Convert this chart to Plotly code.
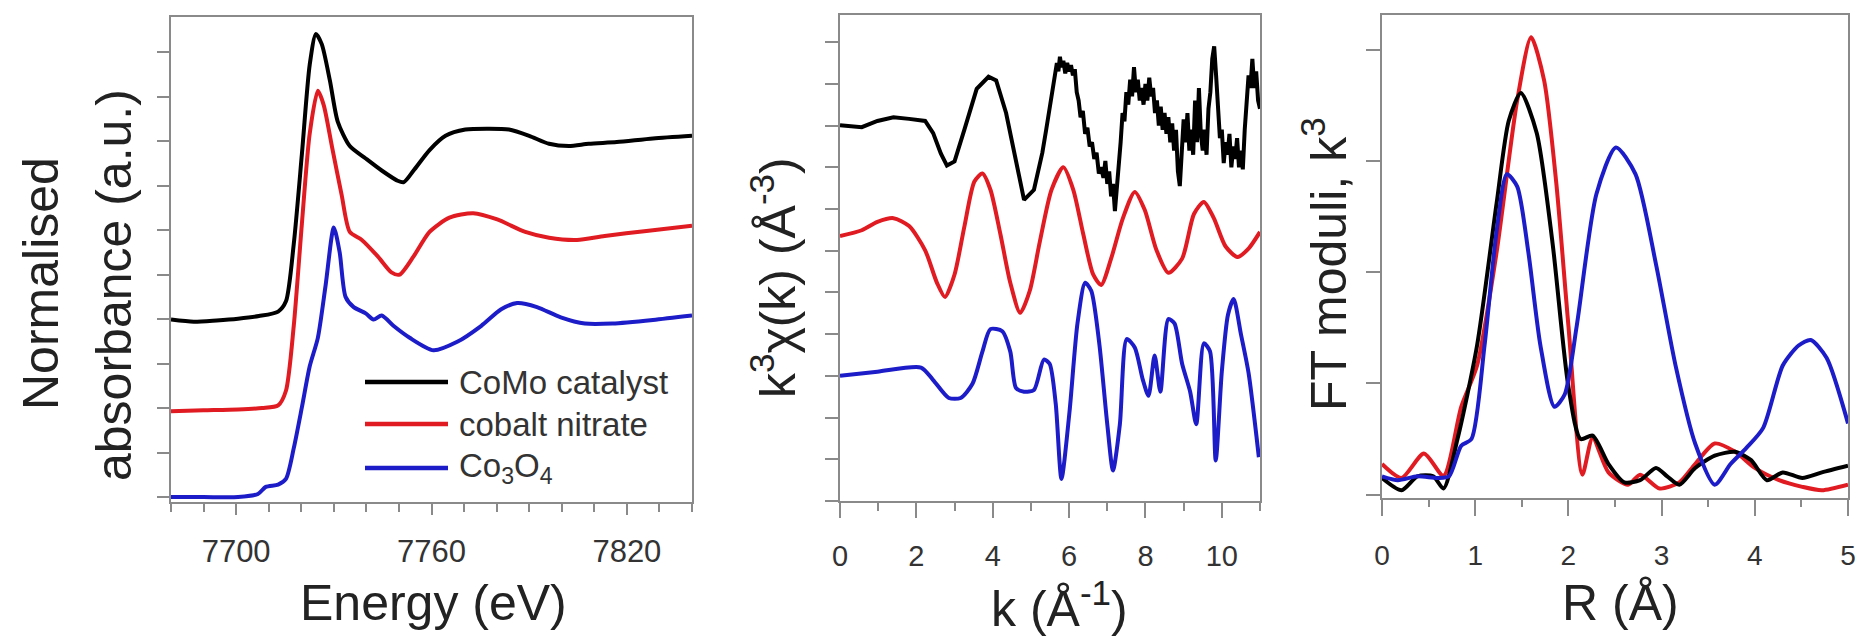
import plotly.graph_objects as go

W, H = 1862, 636

# ---------------- data ----------------
series_names = ["CoMo catalyst", "cobalt nitrate", "Co<sub>3</sub>O<sub>4</sub>"]
series_colors = ["#000000", "#e01b22", "#1c1cc8"]

# Panel 1: XANES (offset stacked)
xanes_black_E = [7680, 7687, 7694, 7700.6, 7707, 7712.9, 7715.3, 7717.7, 7720.2, 7722.6, 7724.5, 7726.3,
                 7728.8, 7731.2, 7734.9, 7739.8, 7744.7, 7749.6, 7751.5, 7754.5, 7759.4, 7764.3, 7770.4,
                 7777.7, 7783.8, 7790, 7796.1, 7802.2, 7808.3, 7816.9, 7828, 7840]
xanes_black_mu = [3.99, 3.94, 3.97, 4.01, 4.07, 4.17, 4.4, 5.69, 7.71, 9.72, 10.41, 10.18,
                  9.36, 8.44, 7.89, 7.61, 7.34, 7.11, 7.08, 7.34, 7.8, 8.12, 8.26,
                  8.28, 8.26, 8.12, 7.94, 7.89, 7.94, 7.98, 8.06, 8.12]
xanes_red_E = [7680, 7690, 7700.6, 7708, 7712.9, 7715.3, 7717.7, 7720.2, 7722.6, 7725.1, 7726.9, 7729.4,
               7732.4, 7734.9, 7738.6, 7743.5, 7747.7, 7750.2, 7754.5, 7759.4, 7765.5, 7772.8, 7780.2,
               7788.8, 7796.1, 7804.7, 7813.2, 7826, 7840]
xanes_red_mu = [1.93, 1.95, 1.97, 2.0, 2.06, 2.39, 3.85, 6.15, 8.17, 9.13, 8.81, 7.89,
                6.79, 5.96, 5.78, 5.41, 5.05, 5.0, 5.41, 5.96, 6.28, 6.38, 6.24,
                5.96, 5.83, 5.78, 5.87, 5.98, 6.1]
xanes_blue_E = [7680, 7690, 7700.6, 7706.7, 7709.1, 7712.9, 7715.3, 7717.7, 7720.2, 7722.6, 7725.1, 7727.5,
                7730, 7731.8, 7733.6, 7736.1, 7739.8, 7742.2, 7744.7, 7748.3, 7753.3, 7760.6, 7767.9,
                7775.3, 7781.4, 7786.3, 7792.4, 7799.7, 7807.1, 7815.6, 7828, 7840]
xanes_blue_mu = [0, 0, 0, 0.07, 0.23, 0.28, 0.41, 1.1, 2.02, 2.94, 3.58, 4.77,
                 6.06, 5.5, 4.5, 4.27, 4.13, 3.99, 4.08, 3.85, 3.58, 3.3, 3.49,
                 3.85, 4.22, 4.36, 4.27, 4.04, 3.9, 3.9, 3.98, 4.08]

# Panel 2: k^3 chi(k) (offset stacked)
exafs_black_k = [0, 0.57, 0.98, 1.4, 1.81, 2.23, 2.44, 2.64, 2.8, 3.0, 3.26, 3.58, 3.89, 4.09, 4.35, 4.61,
                 4.82, 5.08, 5.30, 5.40, 5.48, 5.55, 5.62, 5.68, 5.72, 5.76, 5.80, 5.85, 5.90, 5.95, 6.00,
                 6.05, 6.10, 6.15, 6.20, 6.25, 6.30, 6.36, 6.42, 6.48, 6.54, 6.60, 6.66, 6.72, 6.78, 6.84,
                 6.90, 6.95, 7.00, 7.05, 7.10, 7.15, 7.20, 7.25, 7.30, 7.35, 7.40, 7.45, 7.50, 7.55, 7.60,
                 7.65, 7.70, 7.75, 7.80, 7.85, 7.90, 7.95, 8.00, 8.05, 8.10, 8.15, 8.20, 8.25, 8.30, 8.35,
                 8.40, 8.45, 8.50, 8.55, 8.60, 8.65, 8.70, 8.75, 8.80, 8.85, 8.90, 8.95, 9.00, 9.05, 9.10,
                 9.15, 9.20, 9.25, 9.30, 9.35, 9.40, 9.45, 9.50, 9.55, 9.60, 9.65, 9.70, 9.75, 9.80, 9.85,
                 9.90, 9.95, 10.00, 10.05, 10.10, 10.15, 10.20, 10.25, 10.30, 10.35, 10.40, 10.45, 10.50,
                 10.55, 10.60, 10.65, 10.70, 10.75, 10.80, 10.85, 10.90, 10.95, 11.00]
exafs_black_chi = [9.01, 8.96, 9.11, 9.2, 9.16, 9.11, 8.82, 8.33, 8.04, 8.14, 8.91, 9.88, 10.17, 10.08, 9.3, 8.14,
                   7.22, 7.46, 8.35, 8.9, 9.4, 9.75, 10.2, 10.5, 10.3, 10.65, 10.4, 10.55, 10.25, 10.5, 10.3,
                   10.45, 10.2, 10.35, 9.8, 9.6, 9.2, 9.35, 8.8, 8.95, 8.5, 8.6, 8.2, 8.35, 7.85, 8.0,
                   7.75, 8.15, 7.6, 7.9, 7.3, 7.6, 6.95, 7.5, 7.9, 8.6, 9.3, 9.1, 9.8, 9.5, 10.1,
                   9.7, 10.4, 9.8, 10.1, 9.6, 9.9, 9.5, 10.0, 9.6, 10.15, 9.7, 9.9, 9.3, 9.6, 9.0,
                   9.45, 8.9, 9.3, 8.8, 9.2, 8.6, 9.05, 8.4, 8.9, 7.9, 7.55, 8.5, 9.15, 8.6, 9.3,
                   8.4, 8.9, 8.3, 9.6, 8.6, 9.9, 8.8, 8.4, 8.9, 8.3, 9.4, 9.8, 10.6, 10.9, 10.2,
                   9.2, 8.7, 8.9, 8.1, 8.6, 8.3, 8.8, 8.0, 8.5, 8.2, 8.7, 8.0, 8.4,
                   7.95, 8.9, 9.6, 10.2, 9.9, 10.6, 9.9, 10.3, 9.6, 9.4]
exafs_red_k = [0, 0.57, 0.98, 1.4, 1.81, 2.23, 2.54, 2.75, 3.0, 3.26, 3.52, 3.73, 3.94, 4.2, 4.46, 4.72,
               4.97, 5.23, 5.54, 5.85, 6.11, 6.37, 6.63, 6.84, 7.1, 7.41, 7.72, 7.98, 8.29, 8.6, 8.96,
               9.27, 9.53, 9.79, 10.1, 10.41, 10.7, 11]
exafs_red_chi = [6.35, 6.49, 6.69, 6.78, 6.59, 6.01, 5.23, 4.89, 5.43, 6.59, 7.66, 7.85, 7.46, 6.4, 5.23, 4.51,
                 5.04, 6.2, 7.46, 8.0, 7.46, 6.4, 5.43, 5.18, 5.81, 6.78, 7.41, 6.98, 6.01, 5.47, 5.81,
                 6.88, 7.17, 6.78, 6.1, 5.85, 6.05, 6.45]
exafs_blue_k = [0, 0.98, 2.12, 2.44, 2.85, 3.16, 3.47, 3.73, 3.94, 4.25, 4.46, 4.61, 4.82, 5.08, 5.34, 5.49,
                5.65, 5.8, 6.01, 6.22, 6.42, 6.58, 6.79, 7.0, 7.15, 7.33, 7.51, 7.72, 7.93, 8.08, 8.24,
                8.39, 8.6, 8.76, 8.96, 9.17, 9.33, 9.53, 9.69, 9.84, 10.0, 10.16, 10.31, 10.5, 10.7, 10.97]
exafs_blue_chi = [3.0, 3.1, 3.2, 2.9, 2.47, 2.47, 2.81, 3.58, 4.12, 4.07, 3.58, 2.71, 2.62, 2.66, 3.39, 3.29,
                  2.33, 0.53, 2.13, 4.26, 5.23, 5.04, 3.78, 1.84, 0.73, 1.84, 3.88, 3.68, 2.91, 2.52, 3.49,
                  2.62, 4.36, 4.26, 3.29, 2.62, 1.84, 3.78, 3.59, 0.97, 3.1, 4.46, 4.84, 4.0, 3.07, 1.05]

# Panel 3: FT moduli
ft_black_R = [0, 0.21, 0.38, 0.55, 0.66, 0.81, 1.02, 1.23, 1.36, 1.49, 1.66, 1.83, 2.0, 2.13, 2.26, 2.43,
              2.6, 2.77, 2.94, 3.06, 3.19, 3.36, 3.57, 3.79, 3.96, 4.13, 4.3, 4.51, 4.72, 5.0]
ft_black_mag = [0.15, 0.04, 0.165, 0.165, 0.055, 0.5, 1.34, 2.62, 3.36, 3.61, 3.25, 2.26, 0.97, 0.5, 0.53, 0.275,
                0.11, 0.13, 0.24, 0.165, 0.09, 0.24, 0.35, 0.385, 0.31, 0.13, 0.2, 0.15, 0.2, 0.26]
ft_red_R = [0, 0.21, 0.45, 0.66, 0.85, 1.02, 1.23, 1.45, 1.6, 1.74, 1.87, 2.0, 2.15, 2.26, 2.43, 2.64,
            2.77, 2.98, 3.19, 3.36, 3.57, 3.79, 4.0, 4.26, 4.51, 4.72, 5.0]
ft_red_mag = [0.275, 0.15, 0.37, 0.17, 0.79, 1.16, 2.18, 3.54, 4.11, 3.72, 2.8, 1.52, 0.18, 0.51, 0.2, 0.09,
              0.18, 0.055, 0.11, 0.275, 0.46, 0.385, 0.24, 0.13, 0.07, 0.04, 0.09]
ft_blue_R = [0, 0.17, 0.38, 0.6, 0.72, 0.85, 0.96, 1.1, 1.23, 1.34, 1.45, 1.57, 1.7, 1.85, 1.96, 2.09,
             2.3, 2.51, 2.72, 2.94, 3.15, 3.36, 3.57, 3.74, 3.91, 4.09, 4.3, 4.47, 4.6, 4.77, 5.0]
ft_blue_mag = [0.165, 0.13, 0.165, 0.15, 0.165, 0.44, 0.5, 1.34, 2.37, 2.88, 2.77, 2.18, 1.34, 0.79, 0.9, 1.52,
               2.7, 3.12, 2.88, 2.07, 1.16, 0.46, 0.09, 0.275, 0.42, 0.6, 1.16, 1.34, 1.39, 1.23, 0.64]

# tick labels
energy_ticks = [7700, 7760, 7820]
k_ticks = [0, 2, 4, 6, 8, 10]
r_ticks = [0, 1, 2, 3, 4, 5]

# ---------------- figure ----------------
FONT = "Liberation Sans, Arial, sans-serif"
AX = "#8a8a8a"
TXT = "#2b2b2b"
LW = 4

def px_x(x):
    return x / W

def px_y(y):
    return 1 - y / H

fig = go.Figure()

def add(x, y, color, xa, ya, spline=True):
    fig.add_trace(go.Scatter(
        x=x, y=y, mode="lines", xaxis=xa, yaxis=ya,
        line=dict(color=color, width=LW, shape="spline" if spline else "linear", smoothing=0.7),
        showlegend=False, hoverinfo="skip"))

add(xanes_black_E, xanes_black_mu, series_colors[0], "x", "y")
add(xanes_red_E, xanes_red_mu, series_colors[1], "x", "y")
add(xanes_blue_E, xanes_blue_mu, series_colors[2], "x", "y")

add(exafs_black_k, exafs_black_chi, series_colors[0], "x2", "y2", spline=False)
add(exafs_red_k, exafs_red_chi, series_colors[1], "x2", "y2")
add(exafs_blue_k, exafs_blue_chi, series_colors[2], "x2", "y2")

add(ft_red_R, ft_red_mag, series_colors[1], "x3", "y3")
add(ft_black_R, ft_black_mag, series_colors[0], "x3", "y3")
add(ft_blue_R, ft_blue_mag, series_colors[2], "x3", "y3")

boxes = {  # pixel boxes: left, top, right, bottom
    1: (171, 17, 692, 502),
    2: (840, 15, 1260, 501),
    3: (1382, 15, 1848, 498),
}

def xdom(b):
    return [px_x(b[0]), px_x(b[2])]

def ydom(b):
    return [px_y(b[3]), px_y(b[1])]

common = dict(showline=True, linecolor=AX, linewidth=2, mirror=True, showgrid=False, zeroline=False,
              ticks="outside", tickcolor=AX, tickwidth=2, automargin=False)

def tf(size):
    return dict(family=FONT, size=size, color="#333333")

fig.update_layout(
    width=W, height=H, margin=dict(l=0, r=0, t=0, b=0),
    paper_bgcolor="white", plot_bgcolor="white", template="none", showlegend=False,
    xaxis=dict(domain=xdom(boxes[1]), range=[7680, 7840], anchor="y", tickvals=energy_ticks,
               ticklen=11, ticklabelstandoff=10, tickfont=tf(31),
               minor=dict(dtick=10, tick0=7680, ticklen=8, tickwidth=2, tickcolor=AX, ticks="outside"),
               **common),
    yaxis=dict(domain=ydom(boxes[1]), range=[-0.11, 10.79], anchor="x", tickvals=list(range(11)),
               ticklen=12, showticklabels=False, **common),
    xaxis2=dict(domain=xdom(boxes[2]), range=[0, 11], anchor="y2", tickvals=k_ticks,
                ticklen=15, ticklabelstandoff=13, tickfont=tf(29),
                minor=dict(dtick=1, tick0=0, ticklen=8, tickwidth=2, tickcolor=AX, ticks="outside"),
                **common),
    yaxis2=dict(domain=ydom(boxes[2]), range=[0, 11.65], anchor="x2", tickvals=list(range(12)),
                ticklen=13, showticklabels=False, **common),
    xaxis3=dict(domain=xdom(boxes[3]), range=[0, 5], anchor="y3", tickvals=r_ticks,
                ticklen=16, ticklabelstandoff=15, tickfont=tf(28),
                minor=dict(dtick=0.5, tick0=0, ticklen=7, tickwidth=2, tickcolor=AX, ticks="outside"),
                **common),
    yaxis3=dict(domain=ydom(boxes[3]), range=[-0.03, 4.31], anchor="x3", tickvals=list(range(5)),
                ticklen=14, showticklabels=False, **common),
)

TF = dict(family=FONT, size=50, color="#222222")
ann = []
# axis titles
ann.append(dict(text="Energy (eV)", x=px_x(433), y=px_y(603), xref="paper", yref="paper",
                xanchor="center", yanchor="middle", showarrow=False, font=TF))
ann.append(dict(text="k (Å<sup>-1</sup>)", x=px_x(1059), y=px_y(605), xref="paper", yref="paper",
                xanchor="center", yanchor="middle", showarrow=False, font=TF))
ann.append(dict(text="R (Å)", x=px_x(1620), y=px_y(603), xref="paper", yref="paper",
                xanchor="center", yanchor="middle", showarrow=False, font=TF))
ann.append(dict(text="Normalised", x=px_x(41), y=px_y(284), xref="paper", yref="paper", textangle=-90,
                xanchor="center", yanchor="middle", showarrow=False, font=TF))
ann.append(dict(text="absorbance (a.u.)", x=px_x(114), y=px_y(285), xref="paper", yref="paper", textangle=-90,
                xanchor="center", yanchor="middle", showarrow=False, font=TF))
ann.append(dict(text="k<sup>3</sup>χ(k) (Å<sup>-3</sup>)", x=px_x(774), y=px_y(278), xref="paper", yref="paper",
                textangle=-90, xanchor="center", yanchor="middle", showarrow=False, font=TF))
ann.append(dict(text="FT moduli, k<sup>3</sup>", x=px_x(1325), y=px_y(264), xref="paper", yref="paper",
                textangle=-90, xanchor="center", yanchor="middle", showarrow=False, font=TF))

# legend (manual, inside panel 1)
shapes = []
leg_rows = [382, 424, 468]
for name, color, yy in zip(series_names, series_colors, leg_rows):
    shapes.append(dict(type="line", xref="paper", yref="paper", x0=px_x(365), x1=px_x(448),
                       y0=px_y(yy), y1=px_y(yy), line=dict(color=color, width=4.5)))
    ann.append(dict(text=name, x=px_x(457), y=px_y(yy), xref="paper", yref="paper",
                    xanchor="left", yanchor="middle", showarrow=False,
                    font=dict(family=FONT, size=33, color="#333333")))

fig.update_layout(annotations=ann, shapes=shapes)
fig.write_html("out.html")
